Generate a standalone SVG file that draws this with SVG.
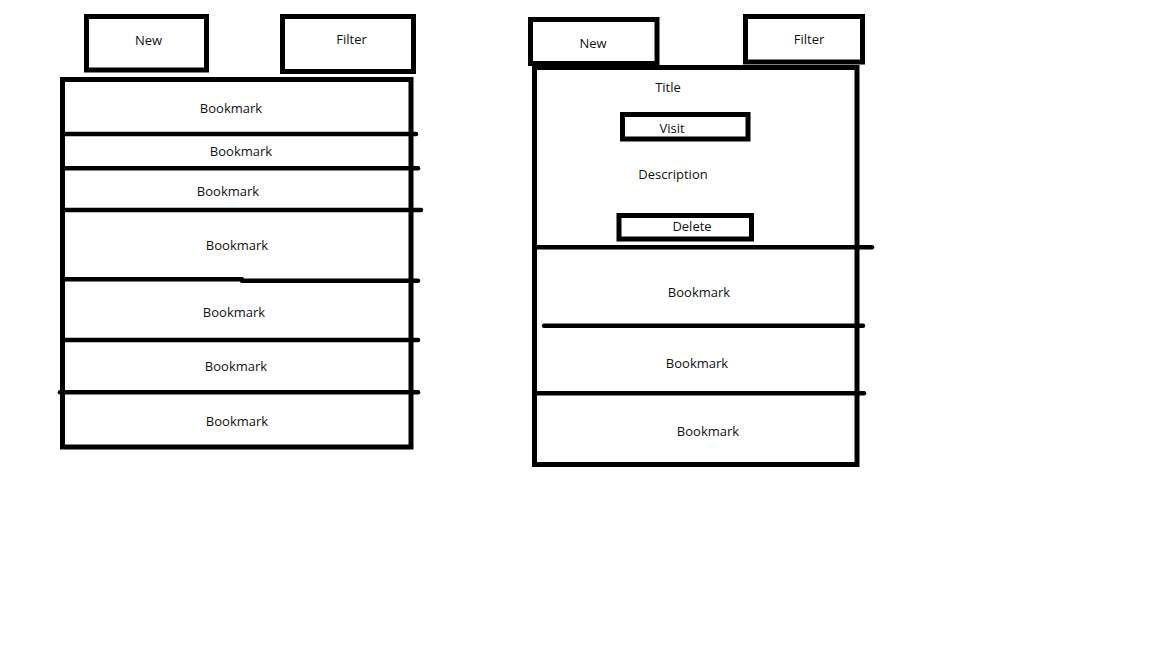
<svg xmlns="http://www.w3.org/2000/svg" width="1152" height="648" viewBox="0 0 1152 648">
  <style>
    .box { fill: none; stroke: #000; stroke-width: 5; }
    .rule { stroke: #000; stroke-width: 4.5; stroke-linecap: round; fill: none; }
    .lbl { font-family: "Open Sans", "Segoe UI", sans-serif; font-size: 13px; fill: #111; text-anchor: middle; }
  </style>
  <rect width="1152" height="648" fill="#fff"/>

  <!-- List view -->
  <g id="list-new">
    <rect class="box" x="86.5" y="16.5" width="120" height="53.5"/>
    <text class="lbl" x="148.5" y="45">New</text>
  </g>
  <g id="list-filter">
    <rect class="box" x="282.5" y="16.5" width="131" height="55"/>
    <text class="lbl" x="351.5" y="44">Filter</text>
  </g>
  <g id="list-panel">
    <rect class="box" x="62.5" y="79.5" width="348.5" height="367.5"/>
    <text class="lbl" x="231" y="113">Bookmark</text>
    <text class="lbl" x="241" y="156">Bookmark</text>
    <text class="lbl" x="228" y="196">Bookmark</text>
    <text class="lbl" x="237" y="250">Bookmark</text>
    <text class="lbl" x="234" y="317">Bookmark</text>
    <text class="lbl" x="236" y="371">Bookmark</text>
    <text class="lbl" x="237" y="426">Bookmark</text>
  </g>

  <!-- Detail view -->
  <g id="detail-new">
    <rect class="box" x="530.5" y="19.5" width="126.5" height="44"/>
    <text class="lbl" x="593" y="48">New</text>
  </g>
  <g id="detail-filter">
    <rect class="box" x="745.5" y="16.5" width="117" height="45.5"/>
    <text class="lbl" x="809" y="44">Filter</text>
  </g>
  <g id="detail-panel">
    <rect class="box" x="534.5" y="67.5" width="322.5" height="397"/>
    <text class="lbl" x="668" y="92">Title</text>
    <text class="lbl" x="673" y="179">Description</text>
    <text class="lbl" x="699" y="297">Bookmark</text>
    <text class="lbl" x="697" y="368">Bookmark</text>
    <text class="lbl" x="708" y="436">Bookmark</text>
  </g>
  <g id="detail-visit">
    <rect class="box" x="622.5" y="114.5" width="125.5" height="24.5"/>
    <text class="lbl" x="672" y="133">Visit</text>
  </g>
  <g id="detail-delete">
    <rect class="box" x="619" y="215.5" width="132.5" height="23.5"/>
    <text class="lbl" x="692" y="231">Delete</text>
  </g>

  <!-- Row separators -->
  <g id="connectors">
    <line class="rule" x1="63" y1="134" x2="416" y2="134"/>
    <line class="rule" x1="63" y1="168.3" x2="418" y2="168.3"/>
    <line class="rule" x1="63" y1="210" x2="421" y2="210"/>
    <path class="rule" d="M63 279.3 H242 M242 280.7 H418"/>
    <line class="rule" x1="63" y1="340" x2="418" y2="340"/>
    <line class="rule" x1="60" y1="392.3" x2="418" y2="392.3"/>

    <line class="rule" x1="537" y1="247.3" x2="872" y2="247.3"/>
    <line class="rule" x1="544" y1="325.7" x2="863" y2="325.7"/>
    <line class="rule" x1="537" y1="393.3" x2="864" y2="393.3"/>
  </g>
</svg>
